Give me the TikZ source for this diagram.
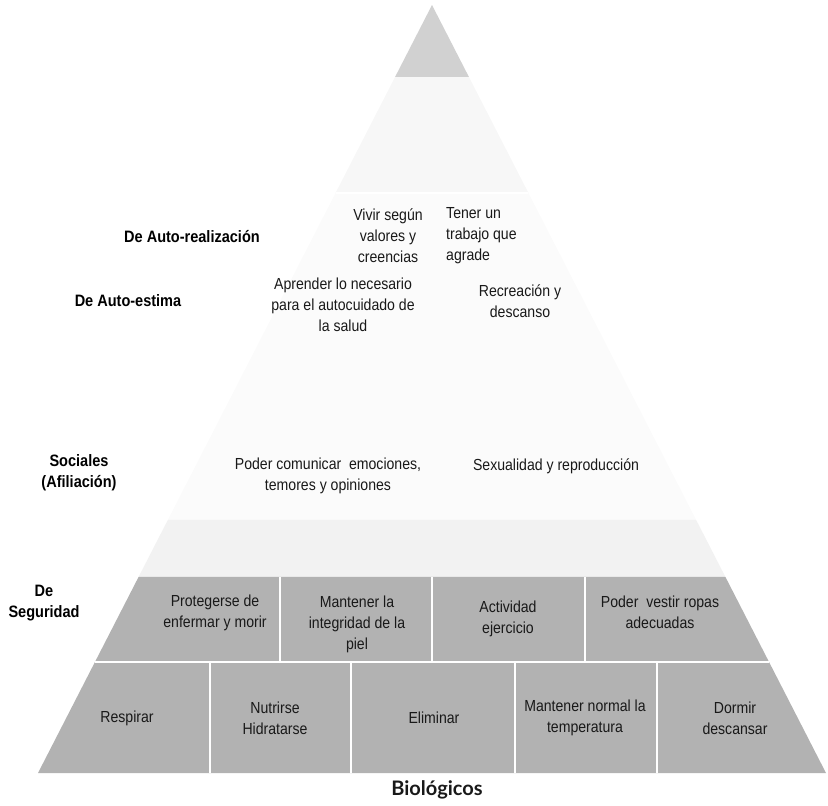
\documentclass[tikz,border=0pt]{standalone}
\usepackage{fontspec}
\setmainfont{Liberation Sans}[FakeStretch=0.88]
\newfontfamily\titlefont{Lato}
\usetikzlibrary{calc}

\begin{document}
\begin{tikzpicture}[x=1pt,y=-1pt,
  txt/.style={align=center,font=\fontsize{16}{21}\selectfont,text=black!90,inner sep=1pt},
  lvl/.style={align=center,font=\bfseries\fontsize{16.5}{21}\selectfont,inner sep=1pt},
  sep/.style={draw=white,line width=1.4pt}]
\useasboundingbox (0,0) rectangle (828,806);
\coordinate (apex) at (432,5);
\coordinate (bl) at (38,773);
\coordinate (br) at (826,773);
\foreach \y [count=\i] in {77,193,345,520,577,662,773}{
  \coordinate (l\i) at ($(apex)!{(\y-5)/768}!(bl)$);
  \coordinate (r\i) at ($(apex)!{(\y-5)/768}!(br)$);
}
% capas de la piramide
\fill[black!18] (apex) -- (r1) -- (l1) -- cycle;
\fill[black!3] (l1) -- (r1) -- (r2) -- (l2) -- cycle;
\fill[black!1.5] (l2) -- (r2) -- (r3) -- (l3) -- cycle;
\fill[black!1.5] (l3) -- (r3) -- (r4) -- (l4) -- cycle;
\fill[black!5] (l4) -- (r4) -- (r5) -- (l5) -- cycle;
\fill[black!30] (l5) -- (r5) -- (r6) -- (l6) -- cycle;
\fill[black!30] (l6) -- (r6) -- (r7) -- (l7) -- cycle;
\draw[sep] (l2) -- (r2);
\draw[sep] (l6) -- (r6);
\foreach \x in {280,432,585}{\draw[sep] (\x,577) -- (\x,662);}
\foreach \x in {210,351,515,657}{\draw[sep] (\x,662) -- (\x,773);}
% niveles
\node[lvl] (autorr) at (192,237) {De Auto-realización};
\node[lvl] (autoes) at (128,301) {De Auto-estima};
\node[lvl] (social) at (79,473) {Sociales\\(Afiliación)};
\node[lvl] (segur) at (44,603) {De\\Seguridad};
\node[font=\titlefont\bfseries\fontsize{20}{22}\selectfont,text=black!90] (biol) at (437,790) {Biológicos};
% necesidades
\node[txt] (vivir) at (388,236) {Vivir según\\valores y\\creencias};
\node[txt,align=left,anchor=west] (tener) at (445,236) {Tener un\\trabajo que\\agrade};
\node[txt] (aprender) at (343,305) {Aprender lo necesario\\para el autocuidado de\\la salud};
\node[txt] (recrea) at (520,301) {Recreación y\\descanso};
\node[txt] (comunic) at (328,476) {Poder comunicar~ emociones,\\temores y opiniones};
\node[txt] (sexual) at (556,466) {Sexualidad y reproducción};
\node[txt] (proteg) at (215,613) {Protegerse de\\enfermar y morir};
\node[txt] (piel) at (357,624) {Mantener la\\integridad de la\\piel};
\node[txt] (activ) at (508,619) {Actividad\\ejercicio};
\node[txt] (vestir) at (660,612) {Poder~ vestir ropas\\adecuadas};
\node[txt] (respir) at (127,718) {Respirar};
\node[txt] (nutri) at (275,718) {Nutrirse\\Hidratarse};
\node[txt] (elimin) at (434,718) {Eliminar};
\node[txt] (temper) at (585,718) {Mantener normal la\\temperatura};
\node[txt] (dormir) at (735,718) {Dormir\\descansar};
\end{tikzpicture}
\end{document}
